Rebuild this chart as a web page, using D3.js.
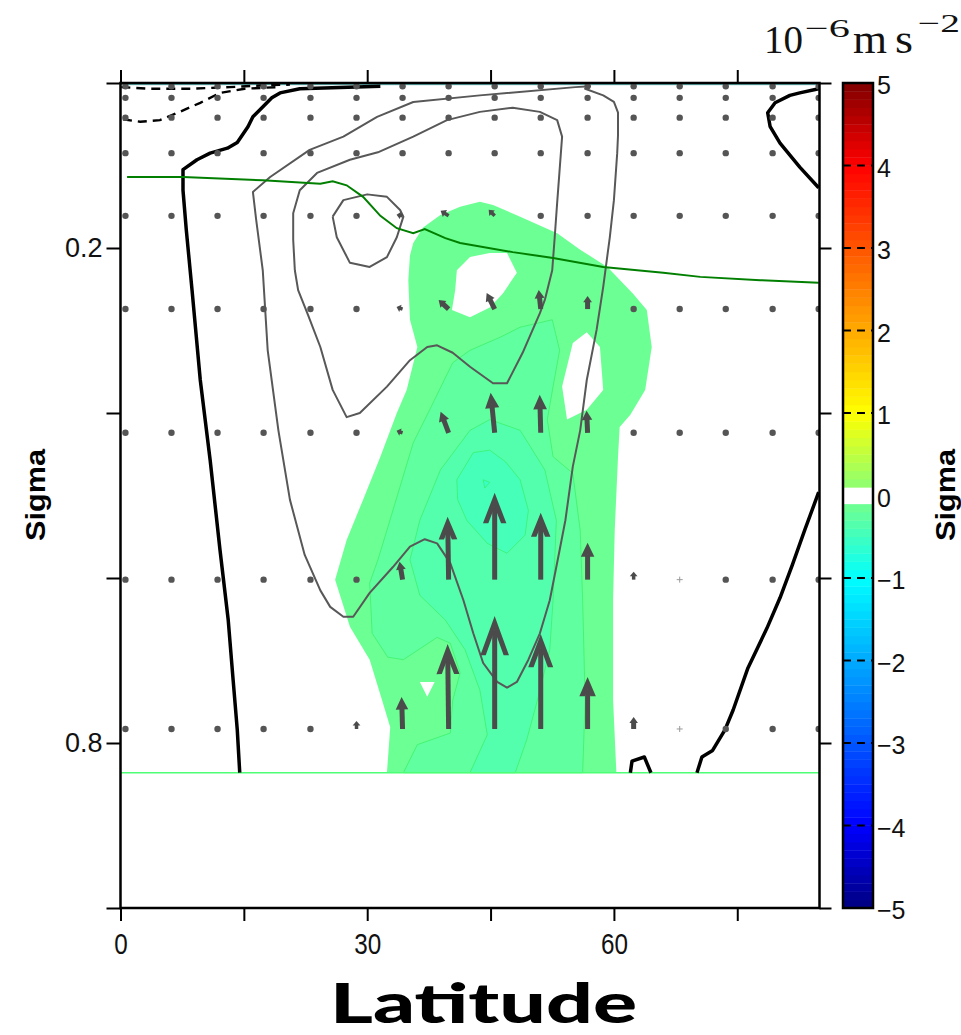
<!DOCTYPE html>
<html>
<head>
<meta charset="utf-8">
<script src="https://cdn.jsdelivr.net/npm/d3@7"></script>
<style>
  body { margin: 0; background: #fff; }
</style>
</head>
<body>
<svg id="chart" width="961" height="1035"></svg>
<script>
// ---------------- data ----------------
// axis ticks
const latTicks = [0, 15, 30, 45, 60, 75];
const latLabels = [0, 30, 60];
const sigmaTicks = [0, 0.2, 0.4, 0.6, 0.8, 1.0];
const sigmaLabels = [0.2, 0.8];
const cbTicks = [5, 4, 3, 2, 1, 0, -1, -2, -3, -4, -5];
const sigmaBottom = 0.836;           // lowest model level shown

// shaded field (10^-6 m s^-2): contour levels and their outlines [lat, sigma]
const fillLevels = [-0.1, -0.2, -0.3, -0.4, -0.5];
const fillOuter = [[32.4,0.836],[32.8,0.781],[31.8,0.748],[30.3,0.699],[27.9,0.659],[26.1,0.602],[27.5,0.554],[29.5,0.505],[31.6,0.453],[33.6,0.400],[34.8,0.372],[36.1,0.320],[35.2,0.287],[35.0,0.239],[35.2,0.209],[35.6,0.194],[36.8,0.175],[38.9,0.160],[41.3,0.150],[43.7,0.144],[45.3,0.148],[48.6,0.162],[53.1,0.182],[55.9,0.202],[59.2,0.223],[62.3,0.255],[64.0,0.275],[64.6,0.320],[63.8,0.372],[62.0,0.402],[60.7,0.417],[60.5,0.453],[60.1,0.542],[59.9,0.627],[59.9,0.748],[60.3,0.836]];
const fillHole1 = [[40.9,0.227],[42.5,0.211],[44.9,0.206],[47.0,0.206],[48.2,0.230],[46.5,0.255],[44.9,0.272],[42.5,0.284],[40.3,0.275],[40.7,0.251]];
const fillHole2 = [[55.0,0.315],[56.7,0.302],[58.3,0.320],[58.7,0.372],[56.7,0.396],[54.3,0.408],[53.7,0.368]];
const fillHole3 = [[36.4,0.726],[38.2,0.726],[37.3,0.744]];
const fill02 = [[34.4,0.836],[36.1,0.802],[40.1,0.788],[40.4,0.748],[41.3,0.715],[40.1,0.679],[38.5,0.672],[34.4,0.699],[32.5,0.696],[30.6,0.667],[30.3,0.606],[31.3,0.578],[32.4,0.542],[35.6,0.436],[37.6,0.396],[40.4,0.339],[42.5,0.324],[46.2,0.308],[48.6,0.296],[52.5,0.287],[53.4,0.324],[52.6,0.368],[51.9,0.408],[52.6,0.453],[55.0,0.473],[55.9,0.542],[56.2,0.627],[56.5,0.748],[56.2,0.836]];
const fill03 = [[42.5,0.836],[44.6,0.790],[43.7,0.736],[41.9,0.687],[39.5,0.651],[36.4,0.621],[35.2,0.578],[36.4,0.530],[38.9,0.469],[42.5,0.421],[44.9,0.408],[48.6,0.421],[51.6,0.469],[53.0,0.530],[52.6,0.627],[52.2,0.687],[50.7,0.748],[49.4,0.796],[48.0,0.836]];
const fill04 = [[40.9,0.481],[42.9,0.448],[44.9,0.445],[46.8,0.459],[48.6,0.481],[49.6,0.518],[49.2,0.548],[47.0,0.570],[44.6,0.558],[42.1,0.530],[41.0,0.505]];
const fill05 = [[44.1,0.481],[44.9,0.484],[44.3,0.491]];

// streamfunction contours [lat, sigma]
const psiOuter = [[55.3,0.005],[57.1,0.004],[56.5,0.007],[58.7,0.015],[60.0,0.023],[60.5,0.036],[60.5,0.063],[60.4,0.085],[60.0,0.142],[59.5,0.187],[58.7,0.247],[57.9,0.299],[56.7,0.360],[55.9,0.421],[55.0,0.465],[54.1,0.530],[53.4,0.566],[52.2,0.627],[51.0,0.667],[49.6,0.699],[48.2,0.726],[47.0,0.733],[45.8,0.726],[44.1,0.703],[42.9,0.667],[41.7,0.627],[40.1,0.582],[38.5,0.558],[37.0,0.553],[35.2,0.562],[33.1,0.587],[30.3,0.618],[28.3,0.647],[27.1,0.647],[25.5,0.635],[24.3,0.615],[22.4,0.572],[20.6,0.505],[19.2,0.421],[17.9,0.324],[17.3,0.227],[16.5,0.166],[16.1,0.132],[18.2,0.114],[23.0,0.081],[27.1,0.065],[31.2,0.041],[35.6,0.023],[43.7,0.015],[55.3,0.005]];
const psiMiddle = [[21.2,0.227],[21.0,0.190],[21.0,0.158],[21.8,0.130],[23.9,0.109],[27.9,0.093],[31.3,0.084],[35.6,0.065],[39.7,0.045],[43.7,0.035],[47.7,0.030],[51.0,0.035],[53.1,0.045],[53.7,0.065],[53.4,0.105],[53.1,0.145],[52.8,0.187],[52.5,0.227],[51.6,0.263],[51.0,0.279],[48.9,0.327],[47.0,0.364],[45.3,0.364],[42.5,0.344],[40.4,0.327],[38.5,0.318],[37.3,0.320],[35.2,0.336],[32.4,0.368],[29.1,0.400],[27.5,0.405],[25.8,0.372],[24.3,0.320],[22.8,0.281],[21.6,0.251],[21.2,0.227]];
const psiInner = [[25.8,0.162],[27.1,0.142],[30.0,0.135],[32.4,0.138],[34.0,0.154],[34.4,0.162],[33.6,0.187],[32.4,0.211],[30.3,0.223],[27.9,0.218],[26.3,0.187],[25.8,0.162]];
const psiZeroWest = [[31.6,0.004],[21.8,0.007],[19.4,0.012],[18.4,0.018],[17.2,0.030],[16.1,0.041],[15.5,0.053],[14.2,0.072],[13.0,0.079],[10.9,0.085],[9.3,0.093],[7.6,0.105],[7.6,0.130],[8.0,0.178],[8.7,0.251],[9.7,0.360],[10.9,0.457],[12.1,0.566],[13.1,0.651],[13.7,0.724],[14.2,0.784],[14.5,0.836]];
const psiZeroPolarTop = [[84.9,0.007],[82.6,0.012],[81.4,0.015],[79.6,0.024],[78.7,0.036],[79.0,0.053],[80.2,0.073],[82.6,0.102],[84.9,0.127]];
const psiZeroPolarLow = [[84.9,0.496],[83.2,0.542],[81.7,0.584],[80.2,0.624],[78.6,0.661],[76.3,0.709],[74.5,0.760],[73.5,0.784],[72.0,0.809],[70.7,0.817],[70.1,0.836]];
const psiZeroBump = [[62.0,0.836],[62.2,0.822],[63.7,0.817],[64.5,0.836]];
const psiNegUpper = [[0.1,0.005],[3.6,0.007],[8.5,0.007],[13.3,0.005],[17.0,0.003],[20.6,0.002]];
const psiNegLower = [[0.3,0.044],[2.4,0.047],[4.8,0.045],[7.2,0.035],[9.7,0.024],[12.1,0.012],[15.1,0.007],[19.0,0.005]];

// tropopause
const tropLat   = [0.8, 7.6, 17.3, 24.3, 25.8, 27.5, 29.5, 31.6, 33.6, 35.6, 37.0, 39.5, 41.3, 47.7, 52.6, 58.7, 66.0, 70.5, 77.8, 84.9];
const tropSigma = [0.114, 0.114, 0.118, 0.122, 0.119, 0.124, 0.138, 0.161, 0.176, 0.182, 0.177, 0.188, 0.194, 0.205, 0.212, 0.223, 0.230, 0.235, 0.239, 0.242];

// residual circulation vectors: grid and components (u: meridional, v: upward);
// null marks points without data
const vecLat   = [0.6, 6.2, 11.8, 17.4, 23.1, 28.7, 34.3, 39.9, 45.5, 51.1, 56.8, 62.4, 68.0, 73.6, 79.3, 84.9];
const vecSigma = [0.004, 0.018, 0.042, 0.085, 0.161, 0.274, 0.424, 0.602, 0.783];
const vecU = [
  [0,0,0,0,0,0,0,0,0,0,0,0,0,0,0,0],
  [0,0,0,0,0,0,0,0,0,0,0,0,0,0,0,0],
  [0,0,0,0,0,0,0,0,0,0,0,0,0,0,0,0],
  [0,0,0,0,0,0,0,0,0,0,0,0,0,0,0,0],
  [0,0,0,0,0,0,-0.6,-0.8,-0.6,0,0,0,0,0,0,0],
  [0,0,0,0,0,0,-0.6,-1.0,-0.8,-0.2,0,0,0,0,0,0],
  [0,0,0,0,0,0,-0.6,-0.8,-0.4,-0.1,-0.1,0,0,0,0,0],
  [0,0,0,0,0,0,-0.3,-0.1,0,0,0,0,null,0,0,0],
  [0,0,0,0,0,0,-0.1,-0.1,0,0,0,0,null,0,0,0]
];
const vecV = [
  [0,0,0,0,0,0,0,0,0,0,0,0,0,0,0,0],
  [0,0,0,0,0,0,0,0,0,0,0,0,0,0,0,0],
  [0,0,0,0,0,0,0,0,0,0,0,0,0,0,0,0],
  [0,0,0,0,0,0,0,0,0,0,0,0,0,0,0,0],
  [0,0,0,0,0,0,0.1,0.5,0.6,0.4,0,0,0,0,0,0],
  [0,0,0,0,0,0,0.2,0.9,1.6,1.9,1.3,0,0,0,0,0],
  [0,0,0,0,0,0,0.2,2.1,4.0,3.8,2.2,0,0,0,0,0],
  [0,0,0,0,0,0,1.8,6.3,8.7,6.7,3.7,0.8,null,0,0,0],
  [0,0,0,0,0,0.8,3.2,8.5,11.3,9.5,5.2,1.2,null,0,0,0]
];

// ---------------- drawing ----------------
const sansFont = "'Liberation Sans', Arial, Helvetica, sans-serif";
const serifFont = "'Liberation Serif', 'DejaVu Serif', serif";

const svg = d3.select("#chart");
svg.append("rect").attr("width", 961).attr("height", 1035).attr("fill", "#fff");

const x = d3.scaleLinear().domain([0, 85]).range([120.5, 819.5]);
const y = d3.scaleLinear().domain([0, 1]).range([83, 908]);
const color = d3.scaleLinear()
  .domain([-5, -4, -1, 1, 4, 5])
  .range(["#000080", "#0000ff", "#00ffff", "#ffff00", "#ff0000", "#800000"])
  .interpolate(d3.interpolateRgb);

svg.append("defs").append("clipPath").attr("id", "plotClip")
  .append("rect").attr("x", x(0)).attr("y", y(0))
  .attr("width", x(85) - x(0)).attr("height", y(1) - y(0));

const plot = svg.append("g").attr("clip-path", "url(#plotClip)");
const line = d3.line().x(d => x(d[0])).y(d => y(d[1]));
const ring = pts => line(pts) + "Z";

// shaded bands
plot.append("path")
  .attr("d", ring(fillOuter) + [fillHole1, fillHole2, fillHole3].map(ring).join(""))
  .attr("fill-rule", "evenodd")
  .attr("fill", color(fillLevels[0] - 0.05));
[fill02, fill03, fill04, fill05].forEach((r, i) => {
  plot.append("path").attr("d", ring(r))
    .attr("fill", color(fillLevels[i + 1] - 0.05))
    .attr("stroke", "#35ef62").attr("stroke-width", 0.9).attr("stroke-opacity", 0.75);
});

// lowest level and model top lines
plot.append("line").attr("x1", x(0)).attr("x2", x(85))
  .attr("y1", y(sigmaBottom)).attr("y2", y(sigmaBottom))
  .attr("stroke", "#4dff74").attr("stroke-width", 1.5);
plot.append("line").attr("x1", x(0)).attr("x2", x(85))
  .attr("y1", y(0.002)).attr("y2", y(0.002))
  .attr("stroke", "#4aa8a8").attr("stroke-width", 1);

// streamfunction contours
[psiOuter, psiMiddle, psiInner].forEach(c => {
  plot.append("path").attr("d", line(c)).attr("fill", "none")
    .attr("stroke", "#585858").attr("stroke-width", 2).attr("stroke-linejoin", "round");
});
[psiZeroWest, psiZeroPolarTop, psiZeroPolarLow, psiZeroBump].forEach(c => {
  plot.append("path").attr("d", line(c)).attr("fill", "none")
    .attr("stroke", "#000").attr("stroke-width", 3.5).attr("stroke-linejoin", "round");
});
[psiNegUpper, psiNegLower].forEach(c => {
  plot.append("path").attr("d", line(c)).attr("fill", "none")
    .attr("stroke", "#000").attr("stroke-width", 2.4).attr("stroke-dasharray", "9,6");
});

// tropopause
plot.append("path")
  .attr("d", line(tropLat.map((l, i) => [l, tropSigma[i]])))
  .attr("fill", "none").attr("stroke", "#007f00").attr("stroke-width", 2);

// vectors
const arrowLen = d3.scaleLinear().domain([0, 1]).range([0, 10]);
const vecG = plot.append("g").attr("fill", "#4b4b4b").attr("stroke", "#4b4b4b");
vecSigma.forEach((s, i) => vecLat.forEach((lat, j) => {
  const x0 = x(lat), y0 = y(s);
  if (vecU[i][j] === null || vecV[i][j] === null) {
    vecG.append("path")
      .attr("d", `M${x0 - 3},${y0}H${x0 + 3}M${x0},${y0 - 3}V${y0 + 3}`)
      .attr("stroke", "#9a9a9a").attr("stroke-width", 1).attr("fill", "none");
    return;
  }
  const dx = arrowLen(vecU[i][j]), dy = -arrowLen(vecV[i][j]);
  const L = Math.hypot(dx, dy);
  if (L < 5) {
    vecG.append("circle").attr("cx", x0).attr("cy", y0).attr("r", 3.2)
      .attr("stroke", "none").attr("fill", "#555");
    return;
  }
  const ux = dx / L, uy = dy / L, px = -uy, py = ux;
  const tx = x0 + dx, ty = y0 + dy;
  const hl = 0.33 * L + 2, hw = 0.6 * hl + 5, t = 5;
  const th = Math.atan2(hw / 2, hl);
  const innerD = t / Math.sin(th);
  const bx = tx - ux * hl, by = ty - uy * hl;
  const wR = [bx + px * hw / 2, by + py * hw / 2];
  const wL = [bx - px * hw / 2, by - py * hw / 2];
  let head, shaftEnd;
  if (innerD >= hl * 0.9) {
    head = [[tx, ty], wR, wL];
    shaftEnd = [bx + ux * 1, by + uy * 1];
  } else {
    const k = (hl - innerD) * (hw / 2) / hl;
    const iv = [tx - ux * innerD, ty - uy * innerD];
    head = [[tx, ty], wR, [bx + px * k, by + py * k], iv, [bx - px * k, by - py * k], wL];
    shaftEnd = iv;
  }
  vecG.append("line").attr("x1", x0).attr("y1", y0)
    .attr("x2", shaftEnd[0]).attr("y2", shaftEnd[1])
    .attr("stroke-width", L < 12 ? 3.5 : 5).attr("fill", "none");
  vecG.append("path").attr("d", "M" + head.map(p => p.join(",")).join("L") + "Z")
    .attr("stroke", "none");
}));

// frame and axes
function styleAxis(g) {
  g.select(".domain").remove();
  g.selectAll(".tick line").attr("stroke", "#000").attr("stroke-width", 2);
}

svg.append("g").attr("transform", `translate(0,${y(1)})`)
  .call(d3.axisBottom(x).tickValues(latTicks).tickSize(13).tickSizeOuter(0).tickPadding(12)
    .tickFormat(d => latLabels.includes(d) ? String(d) : ""))
  .call(styleAxis)
  .call(g => g.selectAll("text")
    .attr("font-family", sansFont).attr("font-size", 30).attr("fill", "#111")
    .each(function() {
      const s = this.textContent;
      if (s) d3.select(this).attr("textLength", s.length * 13.5).attr("lengthAdjust", "spacingAndGlyphs");
    }));

svg.append("g").attr("transform", `translate(0,${y(0)})`)
  .call(d3.axisTop(x).tickValues(latTicks).tickSize(13).tickSizeOuter(0).tickFormat(""))
  .call(styleAxis);

svg.append("g").attr("transform", `translate(${x(0)},0)`)
  .call(d3.axisLeft(y).tickValues(sigmaTicks).tickSize(14).tickSizeOuter(0).tickPadding(4)
    .tickFormat(d => sigmaLabels.includes(d) ? d3.format(".1f")(d) : ""))
  .call(styleAxis)
  .call(g => g.selectAll("text").attr("font-family", sansFont).attr("font-size", 27).attr("fill", "#111"));

svg.append("g").attr("transform", `translate(${x(85)},0)`)
  .call(d3.axisRight(y).tickValues(sigmaTicks).tickSize(12).tickSizeOuter(0).tickFormat(""))
  .call(styleAxis);

svg.append("rect").attr("x", x(0)).attr("y", y(0))
  .attr("width", x(85) - x(0)).attr("height", y(1) - y(0))
  .attr("fill", "none").attr("stroke", "#000").attr("stroke-width", 2.5);

// colour bar
const cbX = 843, cbW = 30;
const cb = d3.scaleLinear().domain([-5, 5]).range([908, 83]);
const cbSteps = d3.range(-50, 50);
svg.append("g").selectAll("rect").data(cbSteps).join("rect")
  .attr("x", cbX).attr("width", cbW)
  .attr("y", i => cb((i + 1) / 10)).attr("height", i => cb(i / 10) - cb((i + 1) / 10) + 0.4)
  .attr("fill", i => (i === -1 || i === 0) ? "#fff" : color(i / 10 + 0.05));
svg.append("g").selectAll("line").data(cbTicks.filter(v => v !== 0 && Math.abs(v) !== 5)).join("line")
  .attr("x1", cbX).attr("x2", cbX + cbW)
  .attr("y1", d => cb(d)).attr("y2", d => cb(d))
  .attr("stroke", "#000").attr("stroke-width", 2).attr("stroke-dasharray", "8,6");
svg.append("rect").attr("x", cbX).attr("y", cb(5)).attr("width", cbW).attr("height", cb(-5) - cb(5))
  .attr("fill", "none").attr("stroke", "#000").attr("stroke-width", 2.5);
svg.append("g").selectAll("text").data(cbTicks).join("text")
  .attr("x", cbX + cbW + 4).attr("y", d => cb(d) + 2)
  .attr("dominant-baseline", "central")
  .attr("font-family", sansFont).attr("font-size", 25).attr("fill", "#111")
  .text(d => d < 0 ? "\u2212" + Math.abs(d) : String(d));

// unit label
const unitParts = [
  { s: "10",     x: 764, y: 53, size: 40, len: 39 },
  { s: "\u22126", x: 805, y: 37, size: 26, len: 45 },
  { s: "m",      x: 853, y: 53, size: 40, len: 34 },
  { s: "s",      x: 895, y: 53, size: 40, len: 18 },
  { s: "\u22122", x: 918, y: 32, size: 26, len: 42 }
];
svg.append("g").selectAll("text").data(unitParts).join("text")
  .attr("x", d => d.x).attr("y", d => d.y)
  .attr("font-family", serifFont).attr("font-size", d => d.size)
  .attr("textLength", d => d.len).attr("lengthAdjust", "spacingAndGlyphs")
  .attr("fill", "#111").text(d => d.s);

// axis titles
[35, 945].forEach(cx => {
  svg.append("text").attr("transform", `translate(${cx + 10},495) rotate(-90)`)
    .attr("text-anchor", "middle").attr("font-family", sansFont)
    .attr("font-weight", "bold").attr("font-size", 27)
    .attr("textLength", 92).attr("lengthAdjust", "spacingAndGlyphs")
    .attr("fill", "#000").text("Sigma");
});
svg.append("text").attr("x", 330).attr("y", 1023)
  .attr("font-family", "Lato, 'Open Sans', sans-serif").attr("font-weight", 900)
  .attr("font-size", 55).attr("textLength", 307).attr("lengthAdjust", "spacingAndGlyphs")
  .attr("fill", "#000").text("Latitude");
</script>
</body>
</html>
